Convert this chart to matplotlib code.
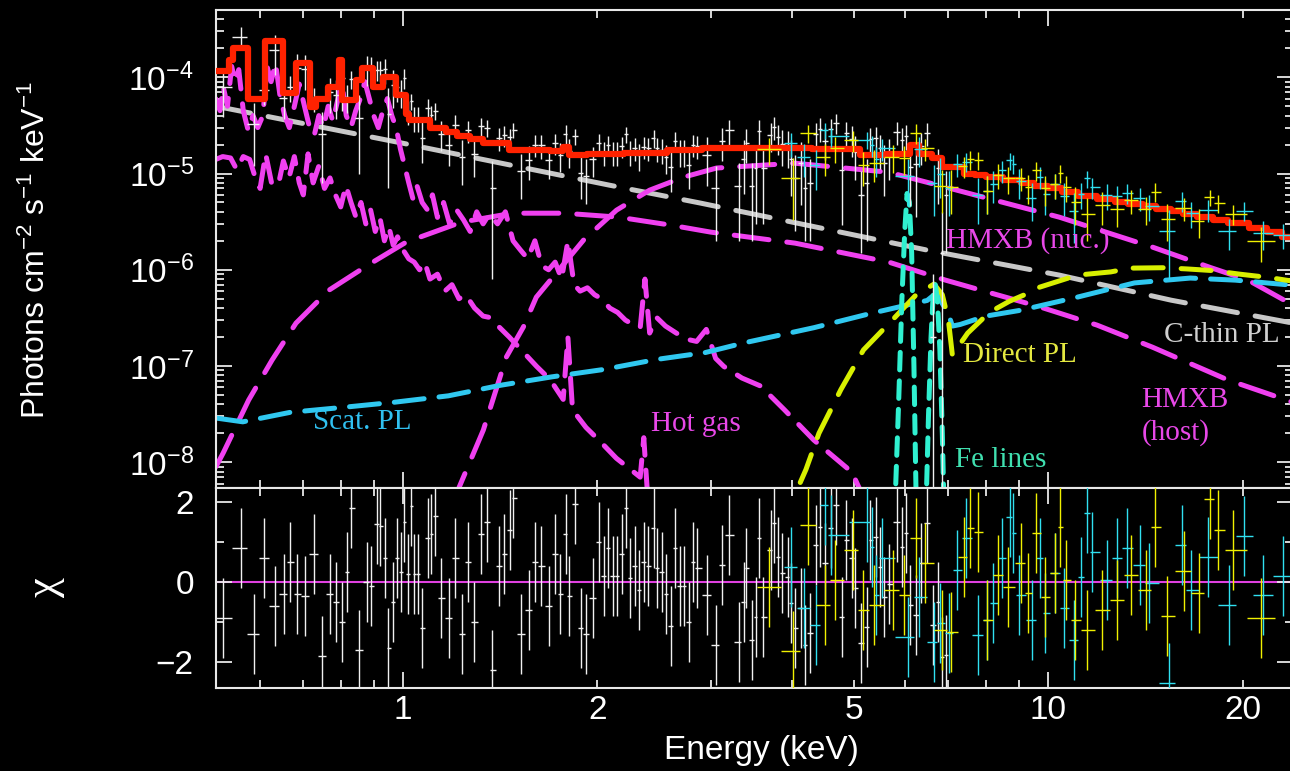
import numpy as np
import matplotlib
matplotlib.use("Agg")
import matplotlib.pyplot as plt
from matplotlib.ticker import FixedLocator, FuncFormatter, LogLocator, NullFormatter

plt.rcParams['font.family'] = ['Liberation Sans', 'DejaVu Sans']
plt.rcParams['mathtext.fontset'] = 'custom'
plt.rcParams['mathtext.rm'] = 'Liberation Sans'
plt.rcParams['mathtext.it'] = 'Liberation Sans:italic'
plt.rcParams['mathtext.bf'] = 'Liberation Sans:bold'

UNIT = 1e-5  # all fluxes below are in units of 1e-5 photons/cm2/s/keV

# ---- white data (soft X-ray) ----
white_e = [0.525, 0.560, 0.587, 0.608, 0.633, 0.653, 0.668, 0.685, 0.704, 0.727,
           0.749, 0.770, 0.787, 0.804, 0.819, 0.830, 0.854, 0.879, 0.892, 0.911,
           0.921, 0.938, 0.948, 0.965, 0.979, 0.993, 1.004, 1.018, 1.029, 1.040,
           1.055, 1.070, 1.094, 1.105, 1.121, 1.146, 1.179, 1.204, 1.235, 1.261,
           1.289, 1.322, 1.350, 1.375, 1.409, 1.435, 1.466, 1.482, 1.525, 1.569,
           1.603, 1.638, 1.680, 1.722, 1.747, 1.785, 1.804, 1.843, 1.883, 1.917,
           1.966, 2.008, 2.045, 2.074, 2.111, 2.142, 2.180, 2.212, 2.243, 2.284,
           2.317, 2.359, 2.393, 2.445, 2.471, 2.516, 2.552, 2.598, 2.636, 2.683,
           2.722, 2.771, 2.811, 2.851,
           2.954, 3.051, 3.117, 3.196, 3.312, 3.373, 3.397, 3.470, 3.520, 3.558,
           3.609, 3.714, 3.754, 3.808, 3.864, 3.947, 3.990, 4.047, 4.136, 4.195,
           4.271, 4.363, 4.426, 4.507, 4.603, 4.687, 4.788, 4.858, 4.963, 5.016,
           5.126, 5.236, 5.293, 5.407, 5.485, 5.564, 5.665, 5.830, 5.935, 6.020,
           6.106, 6.237, 6.351, 6.490, 6.630, 6.750, 6.847, 6.946]
white_f = [7.9, 26, 3.3, 7.3, 19, 6.1, 8.0, 12.5, 12.3, 6.1,
           2.6, 7.1, 6.5, 9.8, 6.3, 9.6, 3.8, 12.4, 12.0, 11.9,
           11.8, 12.1, 4.2, 8.3, 7.9, 7.1, 9.9, 4.45, 5.65, 3.8,
           3.8, 2.36, 4.8, 4.1, 4.5, 2.6, 2.0, 3.2, 1.5, 2.8,
           1.6, 3.1, 3.0, 0.71, 2.35, 2.5, 2.4, 2.85, 1.07, 1.38,
           2.0, 1.96, 1.39, 2.06, 1.55, 2.6, 1.7, 2.46, 1.02, 0.95,
           1.41, 2.08, 1.67, 2.0, 1.67, 1.67, 1.94, 2.57, 1.7, 1.85,
           1.55, 1.9, 1.85, 2.32, 1.82, 1.77, 1.5, 1.17, 2.2, 1.7,
           1.7, 1.22, 2.0, 1.93,
           1.56, 0.7, 2.18, 2.8, 0.75, 1.43, 2.1, 0.75, 1.13, 2.76,
           1.13, 2.5, 3.07, 2.37, 2.03, 1.96, 1.41, 0.9, 1.3, 0.7,
           0.8, 2.55, 2.92, 2.18, 2.89, 3.36, 1.1, 2.65, 2.28, 1.67,
           0.6, 0.8, 2.28, 2.34, 1.82, 1.29, 1.57, 2.69, 2.23, 2.48,
           1.18, 1.25, 1.94, 2.66, 0.02, 1.13, 0.15, 0.6]
white_err = [4.0, 7.0, 2.1, 2.1, 8.4, 2.4, 2.4, 4.9, 4.9, 1.7,
             1.8, 2.8, 2.8, 5.3, 2.0, 2.0, 2.8, 4.3, 4.3, 2.8,
             2.8, 3.5, 3.5, 3.5, 2.3, 2.3, 2.3, 1.26, 1.08, 1.08,
             1.08, 1.08, 1.08, 0.9, 0.9, 0.9, 0.81, 0.81, 0.74, 0.74,
             0.69, 0.69, 0.63, 0.63, 0.63, 0.63, 0.53, 0.53, 0.53, 0.53,
             0.53, 0.53, 0.51, 0.51, 0.51, 0.57, 0.57, 0.47, 0.47, 0.47,
             0.48, 0.48, 0.48, 0.48, 0.48, 0.48, 0.48, 0.5, 0.5, 0.5,
             0.5, 0.5, 0.5, 0.5, 0.5, 0.5, 0.5, 0.53, 0.53, 0.53,
             0.53, 0.53, 0.53, 0.53,
             0.82, 0.5, 0.82, 0.82, 0.55, 0.82, 0.82, 0.55, 0.83, 0.83,
             0.83, 0.83, 0.83, 0.83, 0.83, 0.83, 0.83, 0.65, 0.83, 0.5,
             0.6, 0.81, 0.81, 0.81, 0.81, 0.81, 0.81, 0.81, 0.81, 0.81,
             0.45, 0.6, 0.7, 0.7, 0.7, 0.7, 0.72, 0.72, 0.72, 0.72,
             0.72, 0.9, 0.72, 0.72, 0.07, 0.65, 0.25, 0.45]
white_chi = [-0.9, 0.85, -1.3, 0.6, -0.6, -0.3, 0.5, -0.3, -0.35, 0.7,
             -1.85, -0.3, -0.5, -1.0, 0.25, 1.85, -1.7, 0.0, -0.1, 1.45,
             1.4, 0.6, -1.65, -0.5, 0.6, 0.25, 1.5, 0.2, 1.9, 0.2,
             0.2, -1.15, 1.1, 1.2, 1.65, -0.4, -0.9, 0.6, -1.3, 0.5,
             -1.0, 1.2, 1.5, -2.2, 0.4, 0.7, 1.3, 2.1, -1.3, -0.7,
             0.5, 0.4, -0.6, 0.7, -0.3, 1.2, -0.35, 1.95, -1.15, -1.3,
             -0.4, 1.0, 0.15, 0.85, 0.15, 0.15, 0.7, 1.85, 0.1, 0.4,
             -0.2, 0.5, 0.4, 1.35, 0.35, 0.25, -0.3, -1.1, 0.85, -0.1,
             -0.1, -1.0, 0.5, 0.35,
             -0.33, -1.57, 0.43, 1.18, -1.49, -0.49, 0.34, -1.45, -0.87, 1.09,
             -0.87, 0.8, 1.47, 0.63, 0.22, 0.13, -0.53, -1.16, -0.66, -1.57,
             -1.28, 0.93, 1.38, 0.47, 1.34, 1.93, -0.87, 1.05, 0.59, -0.16,
             -1.53, -1.12, 1.05, 1.13, 0.38, -0.37, -0.04, 1.51, 0.88, 1.22,
             -0.58, -0.83, 0.47, 1.47, -1.08, -0.49, -1.87, -1.83]

# ---- cyan data (hard X-ray, module A) ----
cyan_e = [3.990, 4.180, 4.363, 4.507, 4.603, 5.236, 5.331, 5.407, 5.524, 6.063,
          6.306, 6.653, 6.797, 7.018, 7.222, 7.459, 7.786, 8.040, 8.214, 8.483,
          8.730, 8.824, 9.016, 9.445, 9.719, 9.893, 10.25, 10.59, 10.97, 11.25,
          11.50, 11.70, 12.35, 12.80, 13.22, 13.85, 14.35, 15.36, 16.09, 16.62,
          17.66, 19.03, 20.09, 21.49, 23.09]
cyan_f = [2.06, 1.48, 1.22, 2.84, 2.44, 2.25, 1.96, 1.4, 1.82, 0.94,
          1.78, 0.8, 1.0, 0.71, 1.26, 1.33, 0.6, 0.66, 0.77, 1.08,
          1.37, 1.26, 0.83, 0.56, 0.93, 0.61, 0.77, 0.58, 0.41, 0.61,
          0.89, 0.72, 0.6, 0.59, 0.63, 0.56, 0.46, 0.25, 0.52, 0.39,
          0.42, 0.25, 0.41, 0.24, 0.23]
cyan_err = [0.56, 0.56, 0.54, 0.54, 0.54, 0.47, 0.47, 0.47, 0.47, 0.48,
            0.6, 0.44, 0.44, 0.35, 0.35, 0.3, 0.3, 0.28, 0.28, 0.28,
            0.28, 0.28, 0.28, 0.24, 0.24, 0.24, 0.22, 0.22, 0.22, 0.18,
            0.18, 0.18, 0.18, 0.15, 0.15, 0.15, 0.14, 0.17, 0.12, 0.12,
            0.105, 0.09, 0.09, 0.08, 0.066]
cyan_chi = [0.37, -0.66, -1.08, 1.93, 1.18, 1.51, 0.88, -0.33, 0.59, -1.37,
            -0.37, -1.49, -1.03, -1.28, 0.3, 1.09, -1.32, -0.95, -0.53, 0.59,
            1.63, 1.22, -0.33, -0.95, 0.59, -0.78, 0.22, -0.66, -1.45, 0.13,
            1.72, 0.76, 0.05, 0.59, 0.84, 0.43, -0.03, -2.53, 0.93, -0.2,
            0.63, -0.58, 1.15, -0.33, 0.15]

# ---- yellow data (hard X-ray, module B) ----
yellow_e = [3.687, 4.018, 4.240, 4.507, 4.670, 4.981, 5.163, 5.369, 5.747, 5.975,
            6.237, 6.443, 6.847, 7.068, 7.406, 7.567, 7.786, 8.040, 8.363, 8.668,
            9.081, 9.310, 9.580, 9.893, 10.25, 10.44, 10.67, 11.01, 11.50, 12.13,
            12.80, 13.41, 14.15, 14.66, 15.25, 16.21, 17.10, 17.78, 18.30, 19.31,
            21.34]
yellow_f = [1.78, 0.89, 2.64, 1.49, 1.83, 2.23, 1.22, 1.28, 1.5, 1.44,
            2.65, 1.83, 0.74, 0.73, 1.19, 1.4, 1.38, 0.66, 0.97, 0.89,
            0.9, 0.72, 1.08, 0.7, 0.77, 1.02, 0.73, 0.51, 0.38, 0.47,
            0.43, 0.53, 0.43, 0.65, 0.34, 0.44, 0.32, 0.57, 0.49, 0.38,
            0.2]
yellow_err = [0.56, 0.56, 0.56, 0.54, 0.54, 0.54, 0.47, 0.47, 0.48, 0.48,
              0.6, 0.48, 0.35, 0.35, 0.3, 0.3, 0.3, 0.28, 0.28, 0.28,
              0.24, 0.24, 0.24, 0.24, 0.22, 0.22, 0.22, 0.22, 0.18, 0.18,
              0.15, 0.15, 0.14, 0.14, 0.14, 0.12, 0.105, 0.105, 0.105, 0.09,
              0.08]
yellow_chi = [-0.12, -1.73, 1.43, -0.58, 0.05, 0.8, -0.7, -0.58, -0.2, -0.33,
              1.09, 0.47, -1.2, -1.24, 0.63, 1.34, 1.26, -0.95, 0.17, -0.12,
              0.47, -0.28, 1.22, -0.37, 0.23, 1.38, 0.05, -0.95, -1.2, -0.7,
              -0.45, 0.17, -0.2, 1.38, -0.85, 0.28, -0.27, 2.07, 1.3, 0.8,
              -0.91]

# ---- total model (step edges) ----
total_e = [0.5126, 0.537, 0.545, 0.575, 0.610, 0.651, 0.682, 0.718, 0.733, 0.765,
           0.795, 0.805, 0.845, 0.862, 0.898, 0.931, 0.975, 1.01, 1.02, 1.10,
           1.166, 1.21, 1.27, 1.33, 1.46, 1.69, 1.77, 1.81, 1.93, 2.2,
           2.56, 2.9, 3.5, 4.3, 5.1, 5.6, 6.11, 6.31, 6.6, 6.84,
           7.4, 7.7, 8.0, 8.5, 9.07, 9.5, 10.0, 10.5, 11.1, 11.9,
           12.7, 13.3, 14.0, 14.7, 15.5, 16.2, 17.0, 18.0, 19.0, 20.5,
           21.8, 23.0, 23.95]
total_f = [11.5, 15, 20, 6.0, 24, 6.8, 14, 4.9, 6.0, 7.9,
           15, 5.8, 9.3, 12.4, 7.9, 10, 6.5, 4.2, 3.6, 3.0,
           2.7, 2.45, 2.3, 2.1, 1.75, 1.7, 1.9, 1.55, 1.6, 1.65,
           1.75, 1.83, 1.85, 1.8, 1.55, 1.6, 2.0, 1.6, 1.45, 1.16,
           1.0, 0.96, 0.92, 0.86, 0.79, 0.75, 0.70, 0.65, 0.59, 0.54,
           0.50, 0.48, 0.46, 0.43, 0.41, 0.38, 0.35, 0.33, 0.305, 0.27,
           0.245, 0.22, 0.22]

# ---- model components ----
cthin_e = [0.5126, 0.531, 1.0, 2.087, 2.893, 6.49, 10.4, 15.5, 23.95]
cthin_f = [4.9, 4.77, 2.06, 0.757, 0.492, 0.160, 0.088, 0.0483, 0.0279]

host_e = [0.5126, 0.526, 0.576, 0.626, 0.682, 0.767, 0.882, 1.011, 1.23, 1.477,
          1.778, 2.157, 2.605, 2.998, 4.05, 5.66, 6.93, 9.73, 11.9, 14.5,
          19.0, 23.95]
host_f = [0.0009, 0.00125, 0.00443, 0.0115, 0.0279, 0.0613, 0.112, 0.194, 0.312, 0.387,
          0.387, 0.352, 0.290, 0.246, 0.189, 0.120, 0.078, 0.0409, 0.0266, 0.0157,
          0.00714, 0.0042]

nuc_e = [1.15, 1.221, 1.331, 1.445, 1.535, 1.608, 1.903, 2.141, 2.409, 2.719,
         3.06, 4.047, 5.66, 6.93, 8.48, 10.4, 14.5, 17.8, 20.4, 23.95]
nuc_f = [0.0001, 0.00055, 0.00216, 0.0124, 0.0253, 0.0519, 0.203, 0.416, 0.671, 0.916,
         1.14, 1.28, 1.03, 0.721, 0.504, 0.352, 0.172, 0.106, 0.078, 0.043]

scat_e = [0.5126, 0.564, 0.668, 0.801, 0.968, 1.175, 1.414, 1.697, 2.044, 2.47,
          2.94, 3.39, 4.33, 5.29, 6.49, 6.70, 7.0, 7.1, 7.3, 8.0,
          9.07, 11.1, 13.6, 16.6, 19.5, 23.95]
scat_f = [0.00288, 0.00263, 0.0033, 0.0037, 0.0042, 0.0049, 0.0063, 0.0077, 0.0092, 0.0117,
          0.0138, 0.0175, 0.025, 0.035, 0.048, 0.057, 0.035, 0.026, 0.027, 0.033,
          0.038, 0.052, 0.073, 0.082, 0.078, 0.069]

direct_e = [4.0, 4.09, 4.21, 4.41, 4.77, 5.17, 5.73, 6.24, 6.65, 6.85,
            7.0, 7.1, 7.5, 8.1, 8.7, 9.3, 9.7, 11.1, 12.5, 13.4,
            15.1, 16.4, 18.0, 19.8, 22.0, 23.95]
direct_f = [0.0002, 0.00054, 0.00084, 0.002, 0.0057, 0.0147, 0.030, 0.055, 0.071, 0.055,
            0.03, 0.013, 0.022, 0.036, 0.047, 0.057, 0.066, 0.088, 0.095, 0.104,
            0.105, 0.102, 0.098, 0.09, 0.083, 0.076]

gas_hi_e = [0.512, 0.520, 0.526, 0.534, 0.542, 0.549, 0.556, 0.565, 0.575, 0.585,
            0.595, 0.606, 0.615, 0.624, 0.634, 0.644, 0.655, 0.666, 0.678, 0.690,
            0.703, 0.716, 0.728, 0.740, 0.752, 0.765, 0.778, 0.790, 0.803, 0.816,
            0.830, 0.844, 0.858, 0.872, 0.886, 0.900, 0.915, 0.930, 0.945, 0.960,
            0.975, 0.990, 1.005, 1.02, 1.035, 1.05, 1.07, 1.09, 1.11, 1.13,
            1.155, 1.18, 1.21, 1.24, 1.27, 1.30, 1.33, 1.36, 1.40, 1.44,
            1.48, 1.52, 1.56, 1.60, 1.64, 1.68, 1.72, 1.76, 1.80, 1.84,
            1.88, 1.93, 1.98, 2.03, 2.09, 2.15, 2.21, 2.27, 2.33, 2.37,
            2.41, 2.47, 2.55, 2.65, 2.75, 2.85, 2.95, 3.05, 3.14, 3.35,
            3.58, 3.9, 4.33, 4.96, 5.3]
gas_hi_f = [6.0, 4.5, 8.0, 5.0, 13.0, 9.0, 12.0, 4.5, 2.8, 4.0,
            3.0, 4.0, 13.0, 9.0, 14.0, 6.5, 4.0, 3.0, 5.0, 8.5,
            5.0, 3.0, 2.5, 4.0, 3.0, 5.0, 3.5, 5.5, 9.0, 4.0,
            3.0, 4.5, 6.0, 9.0, 6.0, 4.0, 3.0, 4.5, 6.0, 4.0,
            3.0, 1.8, 1.2, 0.8, 0.55, 0.75, 0.5, 0.42, 0.6, 0.35,
            0.5, 0.3, 0.42, 0.33, 0.25, 0.4, 0.3, 0.38, 0.3, 0.4,
            0.2, 0.16, 0.13, 0.2, 0.11, 0.1, 0.12, 0.08, 0.2, 0.07,
            0.06, 0.065, 0.055, 0.05, 0.04, 0.036, 0.03, 0.027, 0.025, 0.08,
            0.022, 0.032, 0.026, 0.022, 0.019, 0.018, 0.024, 0.012, 0.0099, 0.0075,
            0.0062, 0.0035, 0.0017, 0.00079, 0.0003]

gas_lo_e = [0.512, 0.525, 0.540, 0.552, 0.565, 0.578, 0.590, 0.600, 0.612, 0.625,
            0.640, 0.652, 0.665, 0.678, 0.690, 0.700, 0.712, 0.725, 0.740, 0.755,
            0.770, 0.785, 0.800, 0.815, 0.830, 0.845, 0.860, 0.875, 0.890, 0.905,
            0.92, 0.935, 0.95, 0.965, 0.98, 1.00, 1.02, 1.04, 1.06, 1.08,
            1.10, 1.13, 1.16, 1.19, 1.22, 1.25, 1.29, 1.33, 1.36, 1.46,
            1.61, 1.69, 1.77, 1.80, 1.83, 1.92, 2.01, 2.14, 2.33, 2.36,
            2.39, 2.45]
gas_lo_f = [1.4, 1.5, 1.45, 1.1, 1.5, 1.4, 0.9, 0.7, 1.6, 0.8,
            0.75, 1.35, 0.9, 1.5, 0.8, 0.6, 1.6, 0.8, 1.2, 0.7,
            0.9, 0.6, 0.45, 0.75, 0.5, 0.35, 0.5, 0.3, 0.42, 0.25,
            0.35, 0.2, 0.28, 0.18, 0.22, 0.16, 0.13, 0.12, 0.1, 0.12,
            0.08, 0.09, 0.06, 0.07, 0.05, 0.055, 0.04, 0.033, 0.032, 0.020,
            0.0099, 0.0072, 0.0045, 0.02, 0.0035, 0.0023, 0.0017, 0.0011, 0.0007, 0.0018,
            0.0005, 0.0002]

fe1_e = [5.70, 5.78, 5.86, 5.93, 5.99, 6.04, 6.09, 6.14, 6.19, 6.25, 6.32]
fe1_f = [1e-5, 3e-4, 0.004, 0.05, 0.25, 0.62, 0.5, 0.15, 0.01, 2e-4, 1e-5]
fe2_e = [6.35, 6.45, 6.52, 6.58, 6.63, 6.68, 6.73, 6.79, 6.85, 6.92, 7.0]
fe2_f = [1e-5, 2e-4, 0.003, 0.02, 0.055, 0.07, 0.05, 0.015, 0.002, 1e-4, 1e-5]

# label text, colour, energy, flux
labels = [
    ("HMXB (nuc.)", '#e848e8', 6.93, 2.03e-6),
    ("C-thin PL", '#d0d0d0', 15.1, 2.1e-7),
    ("Direct PL", '#e4e840', 7.37, 1.3e-7),
    ("HMXB", '#e848e8', 13.95, 4.4e-8),
    ("(host)", '#e848e8', 13.95, 2.06e-8),
    ("Fe lines", '#40e0b0', 7.18, 1.05e-8),
    ("Scat. PL", '#30c0f0', 0.725, 2.6e-8),
    ("Hot gas", '#e848e8', 2.42, 2.5e-8),
]

FG = '#e8e8e8'
MAGENTA = '#f040f0'
W, H = 1290, 771


def bin_halfwidths(e):
    e = np.asarray(e, dtype=float)
    mid = np.sqrt(e[1:] * e[:-1])
    lo = np.concatenate([[e[0] ** 2 / mid[0]], mid])
    hi = np.concatenate([mid, [e[-1] ** 2 / mid[-1]]])
    return np.vstack([e - lo, hi - e])


def style_axis(ax):
    ax.set_facecolor('black')
    for sp in ax.spines.values():
        sp.set_color(FG)
        sp.set_linewidth(1.5)
    ax.tick_params(which='both', direction='in', top=True, right=True,
                   bottom=True, left=True, color=FG, width=1.3,
                   labelcolor='white', labelsize=24)
    ax.tick_params(which='major', length=11.5)
    ax.tick_params(which='minor', length=6)


fig = plt.figure(figsize=(W / 100, H / 100), dpi=100)
fig.patch.set_facecolor('black')

x0 = 216 / W
wid = (1293 - 216) / W
ax = fig.add_axes([x0, 1 - 488 / H, wid, (488 - 10) / H])
axr = fig.add_axes([x0, 1 - 688 / H, wid, 200 / H], sharex=ax)
style_axis(ax)
style_axis(axr)

ax.set_xscale('log')
ax.set_yscale('log', nonpositive='clip')
ax.set_xlim(0.5126, 23.95)
ax.set_ylim(5.4e-9, 5.0e-4)
axr.set_ylim(-2.65, 2.35)

dash_kw = dict(lw=3.6, dash_capstyle='round', solid_capstyle='round', zorder=2)
u = lambda v: np.asarray(v) * UNIT

# model components
ax.plot(cthin_e, u(cthin_f), color='#c8c8c8', dashes=(7, 3.6), **dash_kw)
ax.plot(host_e, u(host_f), color=MAGENTA, dashes=(7, 3.6), **dash_kw)
ax.plot(nuc_e, u(nuc_f), color=MAGENTA, dashes=(7, 3.6), **dash_kw)
ax.plot(gas_hi_e, u(gas_hi_f), color=MAGENTA, dashes=(5, 3), **dash_kw)
ax.plot(gas_lo_e, u(gas_lo_f), color=MAGENTA, dashes=(5, 3), **dash_kw)
ax.plot(scat_e, u(scat_f), color='#30c8f0', dashes=(6, 3), **dash_kw)
ax.plot(direct_e, u(direct_f), color='#d8f000', dashes=(6, 3.6), **dash_kw)
ax.plot(fe1_e, u(fe1_f), color='#30f0d0', dashes=(3.5, 2.2), **dash_kw)
ax.plot(fe2_e, u(fe2_f), color='#30f0d0', dashes=(3.5, 2.2), **dash_kw)

# data
err_kw = dict(fmt='none', elinewidth=1.0, capsize=0)
ax.errorbar(white_e, u(white_f), yerr=u(white_err), xerr=bin_halfwidths(white_e),
            ecolor='#f0f0f0', zorder=2.5, **err_kw)
ax.step(total_e, u(total_f), where='post', color='#ff2200', lw=4.5,
        solid_joinstyle='round', zorder=3)
ax.errorbar(cyan_e, u(cyan_f), yerr=u(cyan_err), xerr=bin_halfwidths(cyan_e),
            ecolor='#30e0f0', zorder=4, **err_kw)
ax.errorbar(yellow_e, u(yellow_f), yerr=u(yellow_err), xerr=bin_halfwidths(yellow_e),
            ecolor='#f0f000', zorder=4, **err_kw)

for txt, col, ex, fy in labels:
    ax.text(ex, fy, txt, color=col, fontsize=21, family='Liberation Serif',
            ha='left', va='center', zorder=5)

# residuals
axr.axhline(0, color='#e040e0', lw=1.5, zorder=1)
axr.errorbar(white_e, white_chi, yerr=1, xerr=bin_halfwidths(white_e),
             ecolor='#f0f0f0', zorder=2, **err_kw)
axr.errorbar(cyan_e, cyan_chi, yerr=1, xerr=bin_halfwidths(cyan_e),
             ecolor='#30e0f0', zorder=3, **err_kw)
axr.errorbar(yellow_e, yellow_chi, yerr=1, xerr=bin_halfwidths(yellow_e),
             ecolor='#f0f000', zorder=3, **err_kw)

# ticks
for a in (ax, axr):
    a.xaxis.set_major_locator(FixedLocator([1, 10]))
    a.xaxis.set_minor_locator(FixedLocator([0.6, 0.7, 0.8, 0.9, 2, 3, 4, 5, 6, 7, 8, 9, 20]))
axr.xaxis.set_major_formatter(FuncFormatter(lambda v, p: '%g' % v))
axr.xaxis.set_minor_formatter(FuncFormatter(
    lambda v, p: '%g' % v if round(v, 3) in (2.0, 5.0, 20.0) else ''))
axr.tick_params(axis='x', which='both', pad=5)
ax.tick_params(axis='x', which='both', labelbottom=False)

ax.yaxis.set_major_locator(LogLocator(base=10, numticks=12))
ax.yaxis.set_minor_locator(LogLocator(base=10, subs=np.arange(2, 10), numticks=12))
ax.yaxis.set_minor_formatter(NullFormatter())
ax.tick_params(axis='y', which='both', pad=16)

axr.yaxis.set_major_locator(FixedLocator([-2, 0, 2]))
axr.yaxis.set_minor_locator(FixedLocator([-1, 1]))
axr.yaxis.set_major_formatter(FuncFormatter(lambda v, p: ('%d' % v).replace('-', '\u2212')))
axr.tick_params(axis='y', which='both', pad=16)

# axis titles
fig.text(36 / W, 1 - 250 / H, r'Photons cm$^{-2}$ s$^{-1}$ keV$^{-1}$', color='white',
         fontsize=23, rotation=90, ha='center', va='center')
fig.text(45 / W, 1 - 587 / H, '\u03c7', color='white', fontsize=32,
         family='Liberation Serif', rotation=90, ha='center', va='center')
fig.text(761 / W, 1 - 750 / H, 'Energy (keV)', color='white', fontsize=24,
         ha='center', va='center')

fig.savefig('out.png', dpi=100, facecolor='black')
